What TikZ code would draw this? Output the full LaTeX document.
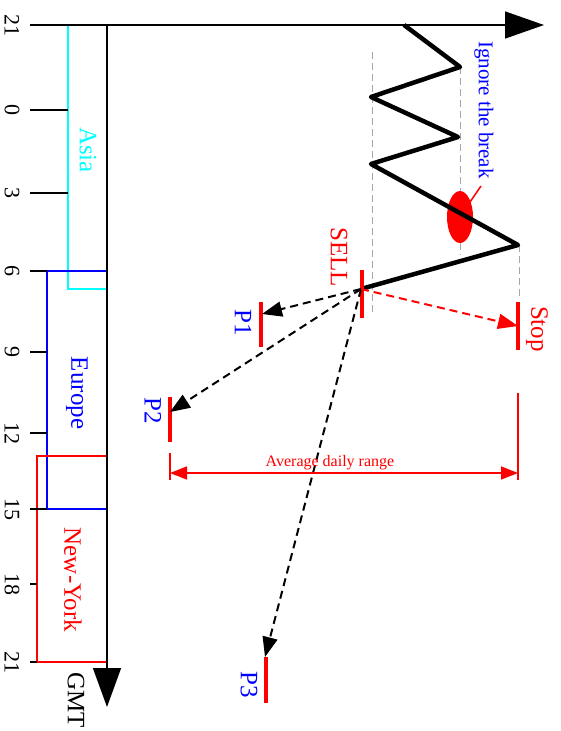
\documentclass[tikz,border=0pt]{standalone}
\usepackage{fontspec}
\setmainfont{Liberation Serif}
\usetikzlibrary{arrows.meta}
\definecolor{asiacyan}{RGB}{0,255,255}

\begin{document}
\begin{tikzpicture}[x=1pt,y=-1pt,
    axis/.style={line width=1.5pt, black},
    session/.style={line width=2.5pt},
    vlabel/.style={rotate=-90, inner sep=0pt, font=\fontsize{25}{30}\selectfont},
    level/.style={line width=3.5pt, red},
    guide/.style={gray!70, line width=0.8pt, dash pattern=on 7pt off 4pt},
    target/.style={line width=2pt, dash pattern=on 8pt off 5pt, -{Triangle[length=20pt,width=15pt]}}]
\useasboundingbox (0,0) rectangle (560,731);

% Sessions
\draw[session, asiacyan] (107,25) -- (68,25) -- (68,289) -- (107,289);
\draw[session, blue] (107,271) -- (47,271) -- (47,509) -- (107,509);
\draw[session, red] (107,456) -- (37,456) -- (37,662) -- (107,662);
\node[vlabel, asiacyan] (asia) at (88,150) {Asia};
\node[vlabel, blue] (europe) at (77,393) {Europe};
\node[vlabel, red] (newyork) at (73,580) {New-York};

% Axes
\draw[axis, -{Triangle[length=39pt,width=27pt]}] (30,25) -- (544,25);
\draw[axis, -{Triangle[length=39pt,width=28pt]}] (107,25) -- (107,707);
\node[vlabel] (gmt) at (76,700) {GMT};

% Hour ticks
\foreach \y/\h/\e [count=\i] in {25/21/68, 110/0/68, 193/3/68, 271/6/47, 352/9/47,
    433/12/47, 509/15/47, 584/18/37, 662/21/37} {
  \draw[axis] (30,\y) -- (\e,\y);
  \node[vlabel, font=\fontsize{22}{26}\selectfont] (hour\i) at (12,\y) {\h};
}

% Guides
\draw[guide] (372,52) -- (372,316);
\draw[guide] (460,67) -- (460,255);
\draw[guide] (519,245) -- (519,297);

% Break
\fill[red] (460,217) ellipse (13 and 26);
\draw[red, line width=1.5pt] (470,202) -- (481,186);
\node[vlabel, blue, font=\fontsize{21}{25}\selectfont] (ignore) at (484,110) {Ignore the break};

% Price
\draw[line width=4.5pt, line join=round] (404,25) -- (460,67) -- (371,97) -- (458,137)
  -- (371,164) -- (518,245) -- (361,289);

% Levels
\coordinate (sell) at (361,289);
\coordinate (stop) at (518,326);
\coordinate (p1) at (262,314);
\coordinate (p2) at (170,412);
\coordinate (p3) at (265,657);
\draw[level] (362,270) -- (362,318);
\draw[level] (518,302) -- (518,350);
\draw[level] (261,302) -- (261,347);
\draw[level] (170,397) -- (170,442);
\draw[level] (266,657) -- (266,703);
\node[vlabel, red] (selllbl) at (339,257) {SELL};
\node[vlabel, red] (stoplbl) at (537,329) {Stop};
\node[vlabel, blue] (p1lbl) at (243,323) {P1};
\node[vlabel, blue] (p2lbl) at (153,411) {P2};
\node[vlabel, blue] (p3lbl) at (249,685) {P3};

% Targets
\draw[target] (sell) -- (p1);
\draw[target] (sell) -- (p2);
\draw[target] (sell) -- (p3);
\draw[target, red] (sell) -- (stop);

% Range
\coordinate (rl) at (170,473);
\coordinate (rr) at (518,473);
\draw[red, line width=1.5pt] (170,453) -- (170,480);
\draw[red, line width=1.5pt] (518,393) -- (518,480);
\draw[red, line width=1.5pt, {Triangle[length=17pt,width=13pt]}-{Triangle[length=17pt,width=13pt]}] (rl) -- (rr);
\node[red, font=\fontsize{16}{19}\selectfont, inner sep=0pt] (adr) at (330,463) {Average daily range};

\end{tikzpicture}
\end{document}
